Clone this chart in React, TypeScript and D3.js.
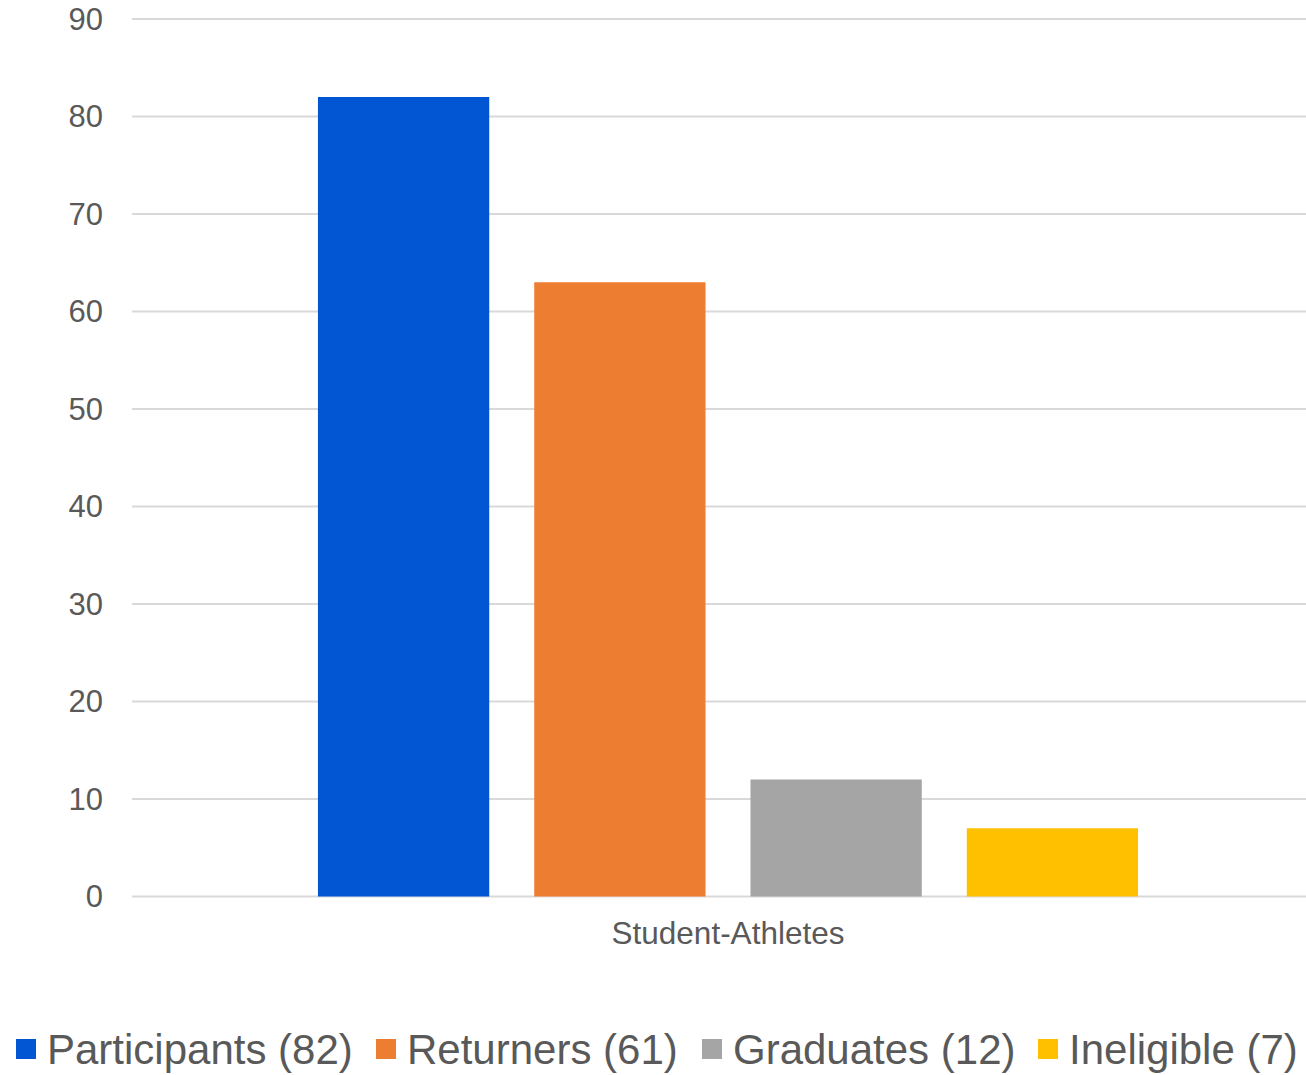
import React from "react";
import * as d3 from "d3";

const categories = ["Student-Athletes"];
const seriesNames = ["Participants", "Returners", "Graduates", "Ineligible"];
const seriesValues = [82, 63, 12, 7];
const legendLabels = ["Participants (82)", "Returners (61)", "Graduates (12)", "Ineligible (7)"];
const seriesColors = ["#0255D3", "#ED7D31", "#A5A5A5", "#FFC000"];
const yTicks = [0, 10, 20, 30, 40, 50, 60, 70, 80, 90];

const W = 1306;
const H = 1075;
const FONT = "'Liberation Sans', Arial, sans-serif";

export default function App() {
  const plotLeft = 132;
  const plotRight = 1324;
  const plotTop = 19;
  const plotBottom = 896.5;

  const y = d3.scaleLinear().domain([0, 90]).range([plotBottom, plotTop]);
  const x0 = d3
    .scaleBand<string>()
    .domain(categories)
    .range([plotLeft, plotRight])
    .paddingInner(0.312)
    .paddingOuter(0.156);
  const x1 = d3
    .scaleBand<string>()
    .domain(seriesNames)
    .range([0, x0.bandwidth()])
    .paddingInner(0.208)
    .paddingOuter(0);

  const legendX = [16, 376, 702, 1038];

  return (
    <div style={{ position: "fixed", left: 0, top: 0, width: W, height: H, overflow: "hidden" }}>
      <svg width={W} height={H} style={{ display: "block", fontFamily: FONT }}>
        <rect width={W} height={H} fill="#ffffff" />
        {yTicks.map((t) => (
          <g key={t}>
            <line
              x1={plotLeft}
              x2={W}
              y1={y(t)}
              y2={y(t)}
              stroke="#D9D9D9"
              strokeWidth={2}
            />
            <text
              x={103}
              y={y(t)}
              dy="0.35em"
              textAnchor="end"
              fontSize={31}
              fill="#595959"
            >
              {t}
            </text>
          </g>
        ))}
        {categories.map((c) => (
          <g key={c} transform={`translate(${x0(c)},0)`}>
            {seriesNames.map((s, i) => (
              <rect
                key={s}
                x={x1(s)}
                y={y(seriesValues[i])}
                width={x1.bandwidth()}
                height={y(0) - y(seriesValues[i])}
                fill={seriesColors[i]}
              />
            ))}
            <text
              x={x0.bandwidth() / 2}
              y={944}
              textAnchor="middle"
              fontSize={31.5}
              fill="#595959"
            >
              {c}
            </text>
          </g>
        ))}
        {legendLabels.map((l, i) => (
          <g key={l} transform={`translate(${legendX[i]},0)`}>
            <rect x={0} y={1039} width={20} height={20} fill={seriesColors[i]} />
            <text x={31} y={1064} fontSize={42} fill="#595959">
              {l}
            </text>
          </g>
        ))}
      </svg>
    </div>
  );
}
